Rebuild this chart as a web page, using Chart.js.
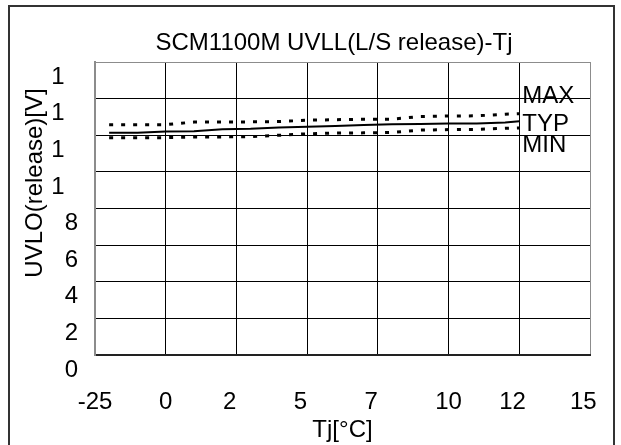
<!DOCTYPE html>
<html>
<head>
<meta charset="utf-8">
<script src="https://cdn.jsdelivr.net/npm/chart.js@4"></script>
<style>
  html, body { margin: 0; padding: 0; background: #fff; }
  #wrap { position: relative; width: 621px; height: 445px; overflow: hidden; }
  #frame { position: absolute; left: 8px; top: 5px; width: 603px; height: 460px; border: 2px solid #333; }
  canvas { position: absolute; left: 0; top: 0; }
</style>
</head>
<body>
<div id="wrap">
  <div id="frame"></div>
  <canvas id="chart" width="621" height="445"></canvas>
</div>
<script>
// ── Data ─────────────────────────────────────────────────
const temps  = [-20, -10, 0, 10, 20, 30, 40, 50, 60, 70, 80, 90, 100, 110, 120, 125];
const uvMax  = [12.58, 12.58, 12.58, 12.72, 12.73, 12.73, 12.75, 12.82, 12.85, 12.87, 12.88, 13.02, 13.05, 13.06, 13.15, 13.18];
const uvTyp  = [12.13, 12.13, 12.2, 12.22, 12.33, 12.35, 12.42, 12.46, 12.5, 12.56, 12.6, 12.62, 12.64, 12.64, 12.7, 12.77];
const uvMin  = [11.86, 11.86, 11.87, 11.9, 11.91, 11.92, 12.0, 12.08, 12.12, 12.13, 12.15, 12.28, 12.31, 12.32, 12.38, 12.4];

const xTickLabels = ["-25", "0", "2  ", "5  ", "7  ", "10", "12  ", "15  "];
const yTickLabels = ["0", "2", "4", "6", "8", "1  ", "1  ", "1  ", "1  "];

const seriesNames  = ["MAX", "TYP", "MIN"];
const seriesLabelY = [14.1, 12.6, 11.45];   // where the series names sit (V)

const TITLE   = "SCM1100M UVLL(L/S release)-Tj";
const Y_TITLE = "UVLO(release)[V]";
const X_TITLE = "Tj[°C]";

const FONT = '"Liberation Sans", Arial, sans-serif';
const pts = vals => temps.map((t, i) => ({ x: t, y: vals[i] }));

// ── Text overlay (title, y title, series names) ──────────
const textPlugin = {
  id: "texts",
  afterDraw(chart) {
    const { ctx, scales: { x, y } } = chart;
    ctx.save();
    ctx.fillStyle = "#000";
    ctx.font = `24px ${FONT}`;
    ctx.textAlign = "center";
    ctx.textBaseline = "middle";
    ctx.fillText(TITLE, 334, 43);

    ctx.textAlign = "left";
    seriesNames.forEach((n, i) => {
      ctx.fillText(n, x.getPixelForValue(125) + 3, y.getPixelForValue(seriesLabelY[i]));
    });

    ctx.translate(35, 183);
    ctx.rotate(-Math.PI / 2);
    ctx.textAlign = "center";
    ctx.fillText(Y_TITLE, 0, 0);
    ctx.restore();
  },
};

const lineDs = (label, vals, dashed) => ({
  label,
  data: pts(vals),
  borderColor: "#000",
  borderWidth: dashed ? 3 : 2,
  borderDash: dashed ? [4, 8] : [],
  borderCapStyle: "butt",
  pointRadius: 0,
  tension: 0,
  fill: false,
});

new Chart(document.getElementById("chart"), {
  type: "line",
  data: {
    datasets: [
      lineDs("MAX", uvMax, true),
      lineDs("TYP", uvTyp, false),
      lineDs("MIN", uvMin, true),
    ],
  },
  options: {
    responsive: false,
    animation: false,
    layout: { padding: { left: 0, right: 31, top: 62, bottom: 0 } },
    plugins: { legend: { display: false }, tooltip: { enabled: false } },
    scales: {
      x: {
        type: "linear",
        min: -25, max: 150,
        afterFit: s => { s.height = 90; s.paddingLeft = 0; s.paddingRight = 0; },
        ticks: {
          stepSize: 25,
          color: "#000",
          font: { family: FONT, size: 24 },
          padding: 33,
          maxRotation: 0,
          autoSkip: false,
          callback: (v, i) => xTickLabels[i],
        },
        grid: {
          drawTicks: false,
          lineWidth: 1,
          color: c => (c.index === xTickLabels.length - 1 ? "#8c8c8c" : "#000"),
        },
        border: { color: "#222", width: 2 },
        title: {
          display: true,
          text: X_TITLE,
          color: "#000",
          font: { family: FONT, size: 24 },
          padding: { top: 0, bottom: 0 },
        },
      },
      y: {
        min: 0, max: 16,
        afterFit: s => { s.width = 95; s.paddingTop = 0; s.paddingBottom = 0; },
        ticks: {
          stepSize: 2,
          color: "#000",
          font: { family: FONT, size: 24 },
          padding: 17,
          labelOffset: 15,
          autoSkip: false,
          callback: (v, i) => yTickLabels[i],
        },
        grid: {
          drawTicks: false,
          lineWidth: 1,
          color: c => (c.index === yTickLabels.length - 1 ? "#8c8c8c" : "#000"),
        },
        border: { color: "#8c8c8c", width: 2 },
      },
    },
  },
  plugins: [textPlugin],
});
</script>
</body>
</html>
